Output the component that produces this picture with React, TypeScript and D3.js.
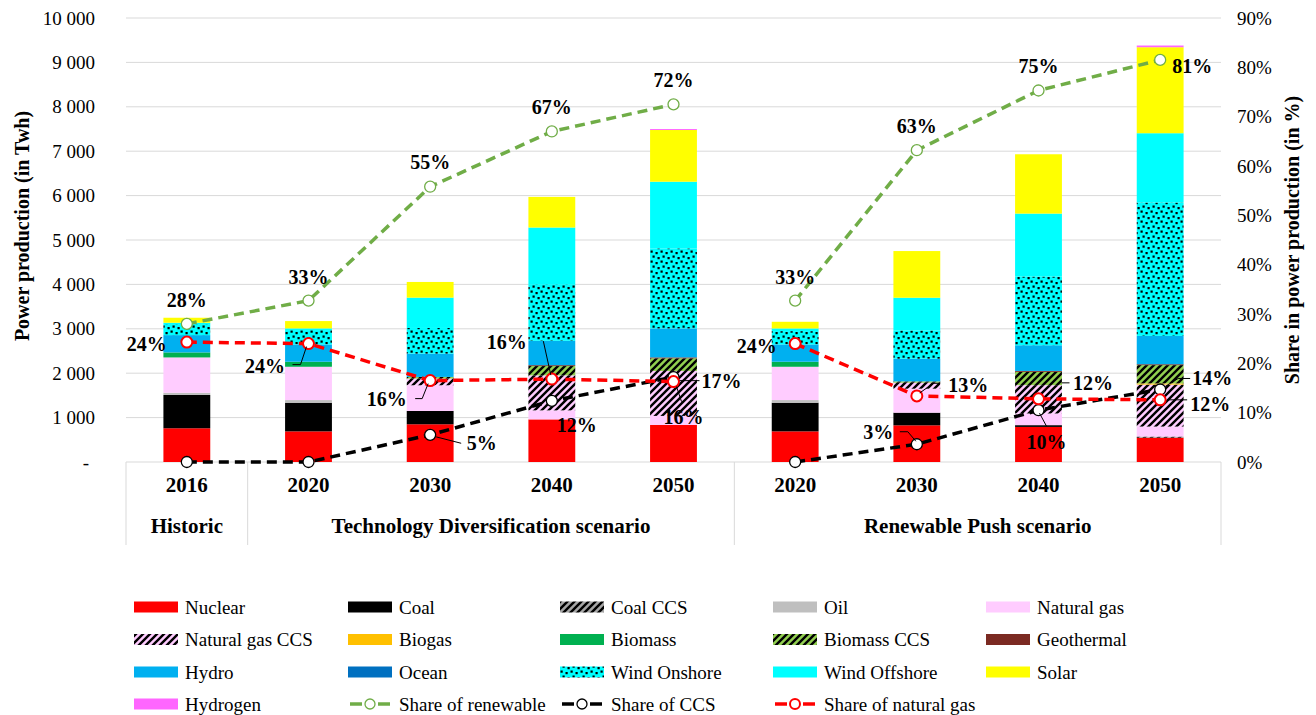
import React from "react";
import * as d3 from "d3";

// ---------- DATA ----------
const years = ["2016", "2020", "2030", "2040", "2050", "2020", "2030", "2040", "2050"];
const groups = [
  { name: "Historic", from: 0, to: 0 },
  { name: "Technology Diversification scenario", from: 1, to: 4 },
  { name: "Renewable Push scenario", from: 5, to: 8 },
];

const nuclear = [760, 690, 850, 960, 835, 690, 826, 790, 548];
const coal = [750, 645, 300, 0, 0, 645, 285, 40, 0];
const coalCCS = [0, 0, 0, 0, 0, 0, 0, 0, 25];
const oil = [50, 60, 0, 0, 0, 60, 0, 0, 0];
const naturalGas = [795, 750, 578, 203, 203, 750, 540, 263, 225];
const naturalGasCCS = [0, 0, 150, 788, 1013, 0, 135, 638, 946];
const biogas = [0, 0, 0, 0, 0, 0, 0, 0, 25];
const biomass = [113, 113, 0, 0, 0, 113, 0, 0, 0];
const biomassCCS = [0, 0, 38, 210, 285, 0, 30, 300, 413];
const geothermal = [0, 0, 0, 20, 20, 0, 0, 20, 20];
const hydro = [390, 390, 525, 548, 653, 390, 510, 578, 638];
const ocean = [0, 0, 0, 0, 0, 0, 0, 0, 0];
const windOnshore = [248, 323, 578, 1276, 1802, 300, 638, 1547, 3003];
const windOffshore = [30, 38, 683, 1276, 1502, 60, 736, 1419, 1562];
const solar = [113, 165, 353, 690, 1164, 150, 1051, 1336, 1937];
const hydrogen = [0, 0, 0, 0, 22, 0, 0, 0, 38];

const shareRenewable = [28, 32.7, 55.8, 67, 72.5, 32.7, 63.2, 75.3, 81.5];
const shareCCS = [0, 0, 5.5, 12.4, 17.2, 0, 3.6, 10.5, 14.7];
const shareGas = [24.3, 24, 16.5, 16.8, 16.3, 24, 13.4, 12.8, 12.6];

const renewableLabels = ["28%", "33%", "55%", "67%", "72%", "33%", "63%", "75%", "81%"];
const ccsLabels = ["", "", "5%", "12%", "17%", "", "3%", "10%", "14%"];
const gasLabels = ["24%", "24%", "16%", "16%", "16%", "24%", "13%", "12%", "12%"];

const leftTicks = [0, 1000, 2000, 3000, 4000, 5000, 6000, 7000, 8000, 9000, 10000];
const rightTicks = [0, 10, 20, 30, 40, 50, 60, 70, 80, 90];

// segments of connected line points (scenario breaks)
const lineSegments = [[0, 1, 2, 3, 4], [5, 6, 7, 8]];

// ---------- STYLES ----------
const techs = [
  { name: "Nuclear", values: nuclear, fill: "#ff0000" },
  { name: "Coal", values: coal, fill: "#000000" },
  { name: "Coal CCS", values: coalCCS, fill: "url(#hatchGray)" },
  { name: "Oil", values: oil, fill: "#bfbfbf" },
  { name: "Natural gas", values: naturalGas, fill: "#ffccff" },
  { name: "Natural gas CCS", values: naturalGasCCS, fill: "url(#hatchPink)" },
  { name: "Biogas", values: biogas, fill: "#ffc000" },
  { name: "Biomass", values: biomass, fill: "#00b050" },
  { name: "Biomass CCS", values: biomassCCS, fill: "url(#hatchGreen)" },
  { name: "Geothermal", values: geothermal, fill: "#7b2a22" },
  { name: "Hydro", values: hydro, fill: "#00b0f0" },
  { name: "Ocean", values: ocean, fill: "#0070c0" },
  { name: "Wind Onshore", values: windOnshore, fill: "url(#dots)" },
  { name: "Wind Offshore", values: windOffshore, fill: "#00ffff" },
  { name: "Solar", values: solar, fill: "#ffff00" },
  { name: "Hydrogen", values: hydrogen, fill: "#ff66ff" },
];

const lineSeries = [
  { key: "renew", name: "Share of renewable", values: shareRenewable, labels: renewableLabels, color: "#70ad47", markerStroke: 1.3 },
  { key: "ccs", name: "Share of CCS", values: shareCCS, labels: ccsLabels, color: "#000000", markerStroke: 1.3 },
  { key: "gas", name: "Share of natural gas", values: shareGas, labels: gasLabels, color: "#ff0000", markerStroke: 2 },
];

type LabelLayout = { dx: number; dy: number; anchor: "start" | "middle" | "end"; leader?: [number, number][] };
const labelLayout: Record<string, (LabelLayout | null)[]> = {
  renew: [
    { dx: 0, dy: -24, anchor: "middle" },
    { dx: 0, dy: -24, anchor: "middle" },
    { dx: 0, dy: -25, anchor: "middle" },
    { dx: 0, dy: -24, anchor: "middle" },
    { dx: 0, dy: -24, anchor: "middle" },
    { dx: 0, dy: -24, anchor: "middle" },
    { dx: 0, dy: -24, anchor: "middle" },
    { dx: 0, dy: -25, anchor: "middle" },
    { dx: 12, dy: 6, anchor: "start" },
  ],
  gas: [
    { dx: -20, dy: 2, anchor: "end" },
    { dx: -23.5, dy: 22, anchor: "end", leader: [[-2, 3], [-8, 21], [-16, 21]] },
    { dx: -23.5, dy: 18.5, anchor: "end", leader: [[-2, 3], [-8, 18], [-15, 18]] },
    { dx: -25, dy: -37.5, anchor: "end", leader: [[-1, -4], [-8.5, -38]] },
    { dx: 10, dy: 35, anchor: "middle", leader: [[3, 5], [8, 20]] },
    { dx: -18.5, dy: 2, anchor: "end" },
    { dx: 31.5, dy: -11, anchor: "start", leader: [[3, -3], [16.5, -12.6], [23, -12.6]] },
    { dx: 34.5, dy: -15.6, anchor: "start", leader: [[23, -16], [31, -16]] },
    { dx: 30, dy: 4, anchor: "start", leader: [[7, 0], [27, 0]] },
  ],
  ccs: [
    null,
    null,
    { dx: 36.5, dy: 8.4, anchor: "start", leader: [[6, 2], [31, 8.4]] },
    { dx: 25, dy: 24, anchor: "middle" },
    { dx: 28, dy: 3.5, anchor: "start", leader: [[6, 3.5], [26, 3.5]] },
    null,
    { dx: -23.5, dy: -12.5, anchor: "end", leader: [[-1, -3], [-9, -12.5], [-17, -12.5]] },
    { dx: 8, dy: 31.5, anchor: "middle", leader: [[1, 3], [8, 16]] },
    { dx: 32, dy: -11, anchor: "start", leader: [[5, -3], [18, -11], [30, -11]] },
  ],
};

const FONT = "'Liberation Serif', 'Times New Roman', serif";
const W = 1316;
const H = 715;
const M = { left: 126, right: 1221, top: 18, bottom: 462 };

const legendCols = [134, 348, 560, 773, 986];
const legendRows = [607, 639.5, 672, 704];

export default function App() {
  const idx = d3.range(years.length);
  const x = d3
    .scaleBand<number>()
    .domain(idx)
    .range([M.left, M.right])
    .paddingInner(0.615)
    .paddingOuter(0.3075);
  const cellX = d3.scaleBand<number>().domain(idx).range([M.left, M.right]).padding(0);
  const y = d3.scaleLinear().domain([0, 10000]).range([M.bottom, M.top]);
  const y2 = d3.scaleLinear().domain([0, 90]).range([M.bottom, M.top]);
  const bw = x.bandwidth();
  const cx = (i: number) => (x(i) as number) + bw / 2;

  const rows = idx.map((i) => {
    const r: Record<string, number> = {};
    techs.forEach((t) => (r[t.name] = t.values[i]));
    return r;
  });
  const stacked = d3.stack<Record<string, number>>().keys(techs.map((t) => t.name))(rows);

  const fmt = (v: number) => (v === 0 ? "-" : d3.format(",")(v).replace(/,/g, " "));

  const line = (vals: number[]) =>
    d3
      .line<number>()
      .x((i) => cx(i))
      .y((i) => y2(vals[i]));

  const groupEdges = [M.left, ...groups.map((g) => (cellX(g.to) as number) + cellX.step())];

  const hatch = "M-2,2 L2,-2 M0,7 L7,0 M5,9 L9,5";

  return (
    <svg width={W} height={H} style={{ position: "absolute", left: 0, top: 0, background: "#fff" }} fontFamily={FONT}>
      <defs>
        <pattern id="hatchGray" patternUnits="userSpaceOnUse" width="7" height="7">
          <rect width="7" height="7" fill="#a6a6a6" />
          <path d={hatch} stroke="#000" strokeWidth="2.4" />
        </pattern>
        <pattern id="hatchPink" patternUnits="userSpaceOnUse" width="7" height="7">
          <rect width="7" height="7" fill="#ffccff" />
          <path d={hatch} stroke="#000" strokeWidth="2.4" />
        </pattern>
        <pattern id="hatchGreen" patternUnits="userSpaceOnUse" width="7" height="7">
          <rect width="7" height="7" fill="#92d050" />
          <path d={hatch} stroke="#000" strokeWidth="2.4" />
        </pattern>
        <pattern id="dots" patternUnits="userSpaceOnUse" width="10" height="10">
          <rect width="10" height="10" fill="#00ffff" />
          <rect x="0.5" y="0.5" width="2.2" height="2.2" fill="#000" />
          <rect x="5.5" y="2" width="2.2" height="2.2" fill="#000" />
          <rect x="2.5" y="5.5" width="2.2" height="2.2" fill="#000" />
          <rect x="7.5" y="7" width="2.2" height="2.2" fill="#000" />
        </pattern>
      </defs>

      {/* gridlines */}
      {leftTicks.map((t) => (
        <line key={"g" + t} x1={M.left} x2={M.right} y1={y(t)} y2={y(t)} stroke="#d9d9d9" strokeWidth={1} />
      ))}

      {/* category axis box lines */}
      {groupEdges.map((gx, k) => (
        <line key={"ge" + k} x1={gx} x2={gx} y1={M.bottom} y2={545} stroke="#d9d9d9" strokeWidth={1} />
      ))}

      {/* bars */}
      {stacked.map((layer, li) => (
        <g key={layer.key} fill={techs[li].fill}>
          {layer.map((d, i) =>
            d[1] - d[0] > 0 ? (
              <rect key={i} x={x(i)} y={y(d[1])} width={bw} height={y(d[0]) - y(d[1])} />
            ) : null
          )}
        </g>
      ))}

      {/* left axis ticks */}
      {leftTicks.map((t) => (
        <text key={"lt" + t} x={t === 0 ? 89 : 95} y={y(t) + 6.5} textAnchor="end" fontSize={19} fill="#000">
          {fmt(t)}
        </text>
      ))}
      {/* right axis ticks */}
      {rightTicks.map((t) => (
        <text key={"rt" + t} x={1237} y={y2(t) + 6.5} textAnchor="start" fontSize={19} fill="#000">
          {t + "%"}
        </text>
      ))}

      {/* axis titles */}
      <text transform="translate(22,226) rotate(-90)" dy="0.35em" textAnchor="middle" fontSize={20} fontWeight="bold">
        Power production (in Twh)
      </text>
      <text transform="translate(1292,240) rotate(-90)" dy="0.35em" textAnchor="middle" fontSize={20} fontWeight="bold">
        Share in power production (in %)
      </text>

      {/* category labels */}
      {years.map((yr, i) => (
        <text key={"yr" + i} x={cx(i)} y={492} textAnchor="middle" fontSize={21} fontWeight="bold">
          {yr}
        </text>
      ))}
      {groups.map((g) => (
        <text
          key={g.name}
          x={((cellX(g.from) as number) + (cellX(g.to) as number) + cellX.step()) / 2}
          y={533}
          textAnchor="middle"
          fontSize={21}
          fontWeight="bold"
        >
          {g.name}
        </text>
      ))}

      {/* lines */}
      {lineSeries.map((s) => (
        <g key={s.key}>
          {lineSegments.map((seg, k) => (
            <path
              key={k}
              d={line(s.values)(seg) || ""}
              fill="none"
              stroke={s.color}
              strokeWidth={3.5}
              strokeDasharray="10,6"
            />
          ))}
          {idx.map((i) => (
            <circle key={i} cx={cx(i)} cy={y2(s.values[i])} r={5.5} fill="#fff" stroke={s.color} strokeWidth={s.markerStroke} />
          ))}
        </g>
      ))}

      {/* data labels */}
      {lineSeries.map((s) =>
        idx.map((i) => {
          const L = labelLayout[s.key][i];
          if (!L || !s.labels[i]) return null;
          const px = cx(i);
          const py = y2(s.values[i]);
          return (
            <g key={s.key + i}>
              {L.leader ? (
                <polyline
                  points={L.leader.map(([a, b]) => `${px + a},${py + b}`).join(" ")}
                  fill="none"
                  stroke="#000"
                  strokeWidth={1}
                />
              ) : null}
              <text x={px + L.dx} y={py + L.dy + 7} textAnchor={L.anchor} fontSize={20} fontWeight="bold" fill="#000">
                {s.labels[i]}
              </text>
            </g>
          );
        })
      )}

      {/* legend */}
      {techs.map((t, k) => {
        const lx = legendCols[k % 5];
        const ly = legendRows[Math.floor(k / 5)];
        return (
          <g key={"lg" + t.name}>
            <rect x={lx} y={ly - 5.5} width={44} height={11} fill={t.fill} />
            <text x={lx + 51} y={ly + 6.5} fontSize={19}>
              {t.name}
            </text>
          </g>
        );
      })}
      {lineSeries.map((s, j) => {
        const k = techs.length + j;
        const lx = legendCols[k % 5];
        const ly = legendRows[Math.floor(k / 5)];
        return (
          <g key={"ll" + s.key}>
            <line x1={lx + 2} x2={lx + 14} y1={ly} y2={ly} stroke={s.color} strokeWidth={3.5} />
            <line x1={lx + 30} x2={lx + 42} y1={ly} y2={ly} stroke={s.color} strokeWidth={3.5} />
            <circle cx={lx + 22} cy={ly} r={5} fill="#fff" stroke={s.color} strokeWidth={s.markerStroke} />
            <text x={lx + 51} y={ly + 6.5} fontSize={19}>
              {s.name}
            </text>
          </g>
        );
      })}
    </svg>
  );
}
